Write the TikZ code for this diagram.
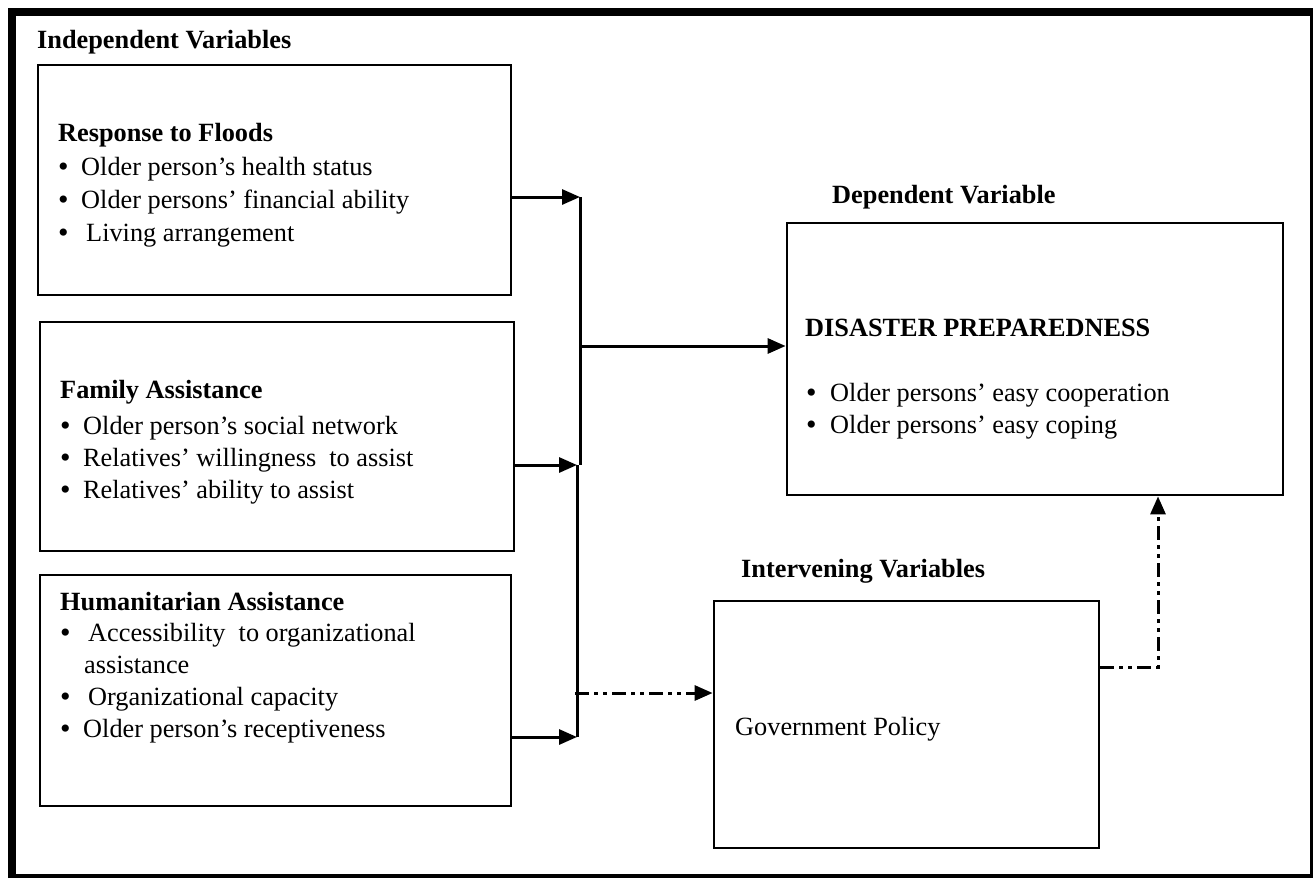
\documentclass[tikz,border=0pt]{standalone}
\usepackage{fontspec}
\setmainfont{Liberation Serif}
\usetikzlibrary{arrows.meta}
\newcommand\bul[1]{\makebox[#1][l]{\raisebox{-1.5pt}{\fontsize{30}{30}\selectfont •}}}
\begin{document}
\begin{tikzpicture}[x=1pt,y=-1pt,
  box/.style={draw,line width=2.8pt,rectangle,inner sep=0pt},
  txt/.style={anchor=base west,inner sep=0pt,font=\fontsize{26.3}{30}\selectfont},
  hd/.style={anchor=base west,inner sep=0pt,font=\fontsize{26.3}{30}\selectfont\bfseries},
  tip/.style={-{Triangle[length=18pt,width=15pt]}},
  arr/.style={line width=3pt,tip},
  ln/.style={line width=3pt},
  dd/.style={line width=3pt,dash pattern=on 14pt off 5pt on 4pt off 5pt on 4pt off 5pt}
]
\useasboundingbox (0,0) rectangle (1313,878);
% outer frame
\draw[line width=8pt] (12,878) -- (12,12) -- (1313,12);
\draw[line width=3pt] (1311.5,8) -- (1311.5,878);
\draw[line width=4pt] (8,876) -- (1313,876);

% boxes
\node[box,minimum width=473pt,minimum height=230pt] (b1) at (274.5,180) {};
\node[box,minimum width=474pt,minimum height=229pt] (b2) at (277,436.5) {};
\node[box,minimum width=471pt,minimum height=231pt] (b3) at (275.5,690.5) {};
\node[box,minimum width=496pt,minimum height=272pt] (dv) at (1035,359) {};
\node[box,minimum width=385pt,minimum height=247pt] (iv) at (906.5,724.5) {};

% headings
\node[hd] (hind) at (37,48) {Independent Variables};
\node[hd] (hdep) at (832,203) {Dependent Variable};
\node[hd] (hint) at (741,577) {Intervening Variables};

% box 1
\node[hd] (t1h) at (58,141) {Response to Floods};
\node[txt] (t1a) at (58,175) {\bul{23pt}Older person’s health status};
\node[txt] (t1b) at (58,208) {\bul{23pt}Older persons’ financial ability};
\node[txt] (t1c) at (58,241) {\bul{28pt}Living arrangement};

% box 2
\node[hd] (t2h) at (60,398) {Family Assistance};
\node[txt] (t2a) at (60,434) {\bul{23pt}Older person’s social network};
\node[txt] (t2b) at (60,466) {\bul{23pt}Relatives’ willingness\ \ to assist};
\node[txt] (t2c) at (60,498) {\bul{23pt}Relatives’ ability to assist};

% box 3
\node[hd] (t3h) at (60,610) {Humanitarian Assistance};
\node[txt] (t3a) at (60,641) {\bul{28pt}Accessibility\ \ to organizational};
\node[txt] (t3a2) at (84,673) {assistance};
\node[txt] (t3b) at (60,705) {\bul{28pt}Organizational capacity};
\node[txt] (t3c) at (60,737) {\bul{23pt}Older person’s receptiveness};

% dependent
\node[hd] (tdh) at (805,336) {DISASTER PREPAREDNESS};
\node[txt] (tda) at (806,401) {\bul{24pt}Older persons’ easy cooperation};
\node[txt] (tdb) at (806,433) {\bul{24pt}Older persons’ easy coping};

% intervening
\node[txt] (tiv) at (735,735) {Government Policy};

% junction coordinates
\coordinate (j1) at (580,197);
\coordinate (j2) at (580,465);
\coordinate (jm) at (580,346);
\coordinate (k2) at (577,465);
\coordinate (k3) at (577,737);
\coordinate (jd) at (575,693);
\coordinate (kr) at (1158,667);

% connectors
\draw[arr] (b1.east |- j1) -- (j1);
\draw[ln] (j1) -- (j2);
\draw[arr] (jm) -- (dv.west |- jm);
\draw[arr] (b2.east |- k2) -- (k2);
\draw[ln] (k2) -- (k3);
\draw[arr] (b3.east |- k3) -- (k3);
\draw[dd,tip] (jd) -- (iv.west |- jd);
\draw[dd,tip] (iv.east |- kr) -- (kr) -- (kr |- dv.south);
\end{tikzpicture}
\end{document}
